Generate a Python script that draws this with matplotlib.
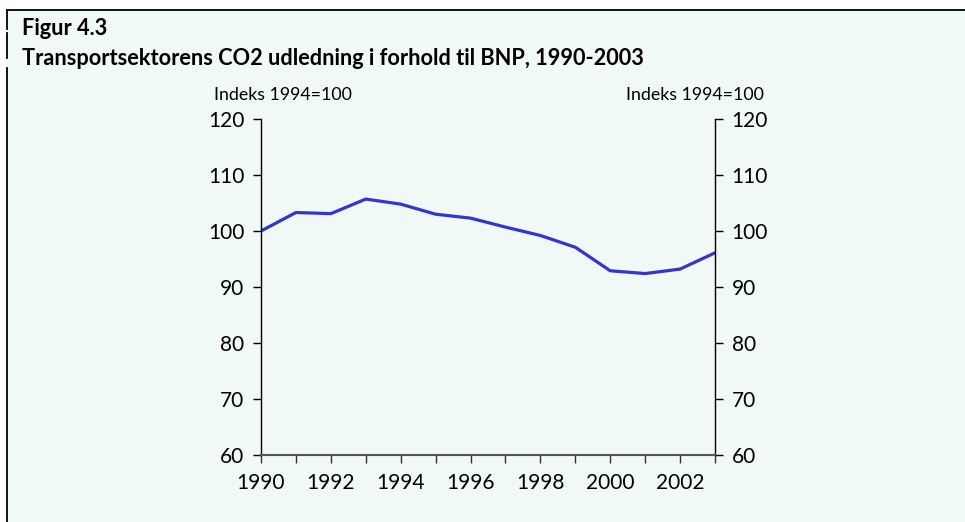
import matplotlib
matplotlib.use("Agg")
import matplotlib.pyplot as plt
from matplotlib.lines import Line2D
from matplotlib.patches import Rectangle

years = list(range(1990, 2004))
index_values = [100.0, 103.3, 103.1, 105.7, 104.8, 103.0, 102.3,
                100.7, 99.2, 97.1, 92.9, 92.4, 93.2, 96.1]
y_ticks = [60, 70, 80, 90, 100, 110, 120]
x_labels = [1990, 1992, 1994, 1996, 1998, 2000, 2002]

title_1 = "Figur 4.3"
title_2 = "Transportsektorens CO2 udledning i forhold til BNP, 1990-2003"
unit = "Indeks 1994=100"

BG = "#f0f9f6"
FONT = "Lato"

W, H = 965, 522
fig = plt.figure(figsize=(W / 100, H / 100), dpi=100)
fig.patch.set_facecolor("white")

# panel background + frame lines
fig.add_artist(Rectangle((7 / W, 0), 1 - 7 / W, 1 - 10 / H,
                         transform=fig.transFigure, facecolor=BG,
                         edgecolor="none", zorder=0))
fig.add_artist(Line2D([7 / W, 1], [1 - 10 / H, 1 - 10 / H],
                      transform=fig.transFigure, color="black", lw=1.3))
for y0, y1 in [(10, 29), (33, 58), (68, 522)]:
    fig.add_artist(Line2D([7 / W, 7 / W], [1 - y0 / H, 1 - y1 / H],
                          transform=fig.transFigure, color="black", lw=1.3))

fig.text(22 / W, 1 - 35 / H, title_1, fontsize=15.7, fontweight="bold",
         family=FONT, va="baseline", ha="left")
fig.text(22 / W, 1 - 65 / H, title_2, fontsize=15.7, fontweight="bold",
         family=FONT, va="baseline", ha="left")

ax = fig.add_axes([261 / W, 1 - 455 / H, (715 - 261) / W, (455 - 119) / H])
ax.set_facecolor(BG)
ax.plot(years, index_values, color="#3434d0", lw=2.3, solid_joinstyle="round")

ax.set_xlim(1990, 2003)
ax.set_ylim(60, 120)
ax.set_yticks(y_ticks)
ax.set_xticks(years)
ax.set_xticklabels([str(y) if y in x_labels else "" for y in years])

ax.spines["top"].set_visible(False)
ax.spines["left"].set_linewidth(1.0)
ax.spines["right"].set_linewidth(1.0)
ax.spines["bottom"].set_color("#555555")
ax.spines["bottom"].set_linewidth(1.5)

ax.tick_params(axis="y", which="both", direction="out", length=6, width=1,
               left=True, right=True, labelleft=True, labelright=True,
               labelsize=15, pad=6)
ax.tick_params(axis="x", direction="out", length=6, width=1,
               labelsize=15, pad=7, color="#333333")
for lab in ax.get_xticklabels() + ax.get_yticklabels():
    lab.set_family(FONT)

fig.text(352 / W, 1 - 100 / H, unit, fontsize=12.8, family=FONT,
         ha="right", va="baseline")
fig.text(764 / W, 1 - 100 / H, unit, fontsize=12.8, family=FONT,
         ha="right", va="baseline")

fig.savefig("out.png", dpi=100, facecolor=fig.get_facecolor())
